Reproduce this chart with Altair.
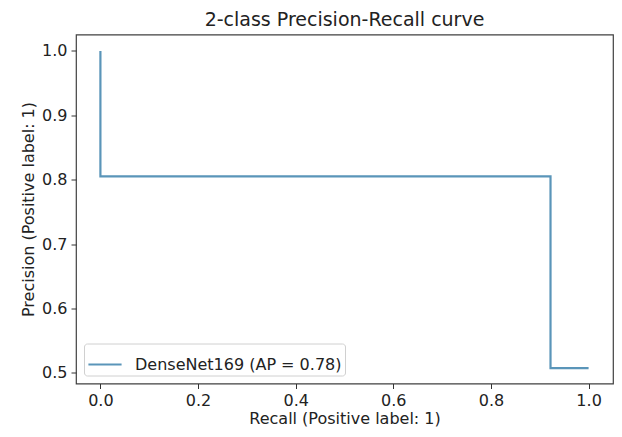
import altair as alt
import pandas as pd

recall = [0.0, 0.0, 0.922, 0.922, 1.0]
precision = [1.0, 0.805, 0.805, 0.507, 0.507]
order = [0, 1, 2, 3, 4]
series_name = "DenseNet169 (AP = 0.78)"
x_ticks = [0.0, 0.2, 0.4, 0.6, 0.8, 1.0]
y_ticks = [0.5, 0.6, 0.7, 0.8, 0.9, 1.0]

df = pd.DataFrame({"recall": recall, "precision": precision, "order": order,
                   "series": [series_name] * len(recall)})

FONT = "DejaVu Sans"
LINE_COLOR = "#5a95b9"

chart = alt.Chart(df).mark_line(strokeWidth=2.2, interpolate="linear").encode(
    x=alt.X("recall:Q", scale=alt.Scale(domain=[-0.05, 1.05], nice=False, zero=False),
            axis=alt.Axis(title="Recall (Positive label: 1)", values=x_ticks, format=".1f",
                          grid=False, domain=False, tickSize=5, tickColor="#333333",
                          labelPadding=4, titlePadding=2, labelFlush=False)),
    y=alt.Y("precision:Q", scale=alt.Scale(domain=[0.4832, 1.0256], nice=False, zero=False),
            axis=alt.Axis(title="Precision (Positive label: 1)", values=y_ticks, format=".1f",
                          grid=False, domain=False, tickSize=5, tickColor="#333333",
                          labelPadding=4, titlePadding=5, labelFlush=False)),
    order="order:Q",
    color=alt.Color("series:N", scale=alt.Scale(range=[LINE_COLOR]),
                    legend=alt.Legend(title=None, orient="bottom-left", offset=8,
                                      symbolType="stroke", symbolSize=1100,
                                      symbolStrokeWidth=2.2, labelFontSize=16,
                                      labelFont=FONT, labelColor="#222222",
                                      labelLimit=400,
                                      fillColor="white", strokeColor="#d0d0d0",
                                      padding=3, cornerRadius=3, labelOffset=12)),
).properties(
    width=537,
    height=349,
    title=alt.TitleParams("2-class Precision-Recall curve", fontSize=19, font=FONT,
                          fontWeight="normal", color="#222222", offset=5,
                          anchor="middle"),
    autosize=alt.AutoSizeParams(type="none"),
    padding={"left": 68, "top": 26.5, "right": 1, "bottom": 45},
    background="white",
).configure_view(
    stroke="#404040", strokeWidth=1.2
).configure_axis(
    labelFont=FONT, titleFont=FONT, labelFontSize=16, titleFontSize=16,
    labelColor="#222222", titleColor="#222222", titleFontWeight="normal"
)

chart.save("out.html", embed_options={"renderer": "svg", "actions": False})
